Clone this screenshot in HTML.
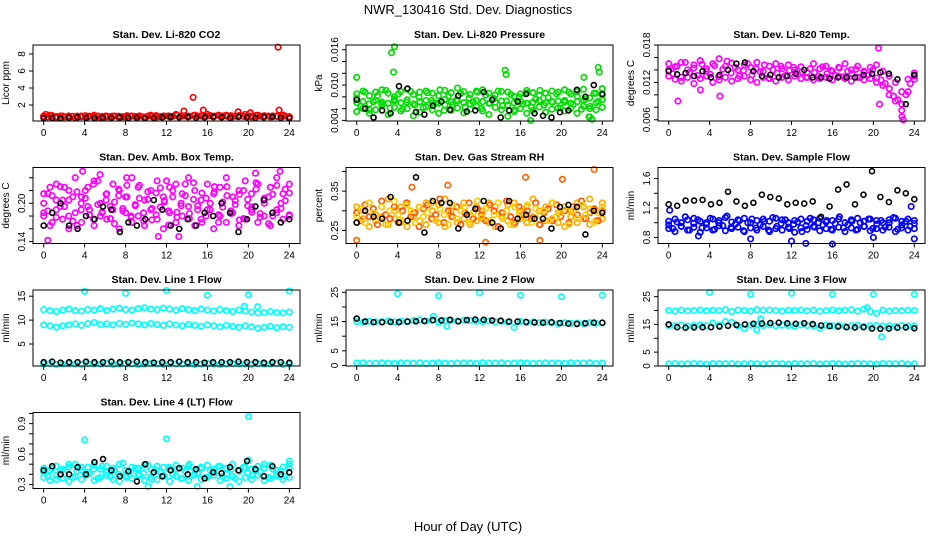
<!DOCTYPE html>
<html><head><meta charset="utf-8"><style>
html,body{margin:0;padding:0;background:#fff;}
svg{display:block;font-family:"Liberation Sans",sans-serif;}
</style></head><body>
<svg id="chart" width="936" height="540" viewBox="0 0 936 540">
<text x="468" y="14" text-anchor="middle" font-size="13">NWR_130416  Std. Dev. Diagnostics</text>
<text x="468" y="531" text-anchor="middle" font-size="13">Hour of Day (UTC)</text>
</svg>
<script>
const xTicks=[0,4,8,12,16,20,24];

const co2Red=[0.6,0.8,0.5,0.7,0.6,0.5,0.7,0.6,0.8,0.5,0.6,0.7,0.5,0.6,0.7,0.6,0.5,0.8,0.6,0.7,0.6,0.9,0.7,0.6,0.8,0.7,0.9,0.6,0.7,0.8,0.6,0.7,0.9,0.6,0.8,0.7,0.6,0.7,0.8,0.5];
const co2RedB=[0.7,0.6,0.75,0.65,0.7,0.6,0.72,0.66,0.7,0.62,0.74,0.68,0.6,0.7,0.66,0.72,0.64,0.7,0.68,0.62,0.74,0.7,0.66,0.72,0.6,0.7,0.68,0.76,0.64,0.7,0.72,0.66,0.8,0.7,0.74,0.68,0.78,0.7,0.72,0.66,0.76,0.7,0.8,0.72,0.68,0.74,0.7,0.78,0.66,0.72,0.7,0.76,0.68,0.74,0.7,0.72,0.66,0.74,0.7,0.62];
const co2Black=[0.45,0.5,0.45,0.5,0.55,0.5,0.45,0.5,0.5,0.55,0.5,0.5,0.45,0.5,0.55,0.6,0.55,0.6,0.5,0.55,0.6,0.55,0.5,0.6,0.55,0.5,0.55,0.6,0.5,0.45];
const co2OutHours=[14.6,22.9,13.7,15.6,19,20.2,23,0.2];
const co2OutVals=[2.9,8.8,1.3,1.4,1.2,1.1,1.4,0.9];

const presGreenA=[0.0085,0.009,0.0082,0.0088,0.0092,0.0086,0.008,0.0089,0.0093,0.0084,0.0088,0.009,0.0086,0.0082,0.0091,0.0087,0.0095,0.0089,0.0084,0.009,0.0092,0.0086,0.0083,0.0089,0.0088,0.0081,0.0085,0.0091,0.0087,0.0083,0.0086,0.009,0.0088,0.0092,0.0085,0.0089,0.0093,0.0078,0.0086,0.0094];
const presGreenB=[0.0055,0.006,0.0052,0.0058,0.0065,0.005,0.0062,0.0056,0.006,0.0048,0.0054,0.0063,0.0058,0.0052,0.0066,0.0057,0.0061,0.0053,0.0059,0.0064,0.0056,0.005,0.0062,0.0058,0.0047,0.0055,0.006,0.0052,0.0057,0.0063,0.0054,0.0059,0.0061,0.0056,0.006,0.0052,0.0064,0.0046,0.0058,0.0062];
const presGreenC=[0.007,0.0072,0.0068,0.0074,0.0071,0.0069,0.0073,0.007,0.0075,0.0068,0.0072,0.0074,0.007,0.0069,0.0076,0.0071,0.0073,0.007,0.0068,0.0074,0.0072,0.0069,0.0071,0.0073,0.0066,0.007,0.0072,0.0069,0.0071,0.0074,0.007,0.0072,0.0073,0.0071,0.0069,0.0072,0.0074,0.006,0.007,0.0075];
const presGreenD=[0.0078,0.0064,0.0088,0.0058,0.0072,0.0082,0.0068,0.0091,0.0061,0.0076,0.0085,0.0059,0.0071,0.0089,0.0066,0.0079,0.0062,0.0087,0.0074,0.0069,0.0092,0.0057,0.0081,0.0067,0.0075,0.0086,0.0063,0.0078,0.0071,0.0088,0.006,0.0083,0.0069,0.0077,0.009,0.0065,0.0073,0.0084,0.0058,0.008,0.0068,0.0087,0.0062,0.0076,0.0091,0.0066,0.0079,0.0071,0.0085,0.0061,0.0074,0.0088,0.0067,0.0081,0.0059,0.0076,0.0064,0.0086,0.0072,0.0083];
const presBlack=[0.0075,0.006,0.0045,0.0057,0.0052,0.0098,0.0094,0.0054,0.005,0.0065,0.0072,0.0058,0.0082,0.0055,0.0057,0.0088,0.0075,0.0045,0.0057,0.0072,0.0085,0.0052,0.0048,0.0045,0.0054,0.0057,0.0092,0.008,0.01,0.0085];
const presOutHours=[3.4,3.7,3.6,0,14.6,14.5,23.6,23.7,22.7,23,17,22.2];
const presOutVals=[0.0155,0.0165,0.0122,0.0113,0.0118,0.0125,0.013,0.0122,0.0046,0.0042,0.004,0.0113];

const tempMagA=[0.015,0.0145,0.0152,0.014,0.0148,0.0155,0.0142,0.015,0.0158,0.0146,0.0151,0.014,0.0148,0.0144,0.0152,0.0138,0.0146,0.015,0.0142,0.0148,0.014,0.0145,0.0136,0.015,0.0142,0.0146,0.0138,0.0144,0.015,0.014,0.0146,0.0138,0.0144,0.0148,0.0138,0.013,0.012,0.0105,0.0125,0.0135];
const tempMagB=[0.013,0.0125,0.0122,0.0128,0.0118,0.0126,0.013,0.012,0.0124,0.0128,0.0122,0.0126,0.013,0.0124,0.012,0.0128,0.0126,0.0122,0.0128,0.0124,0.013,0.0126,0.0128,0.0124,0.0126,0.0128,0.0124,0.013,0.0126,0.0122,0.0128,0.0124,0.0126,0.012,0.0115,0.01,0.009,0.0075,0.0105,0.0125];
const tempMagC=[0.014,0.0134,0.0146,0.0128,0.0152,0.0136,0.0143,0.0131,0.0149,0.0138,0.0133,0.0147,0.0129,0.0141,0.0154,0.0135,0.0144,0.013,0.0139,0.015,0.0132,0.0142,0.0137,0.0148,0.0127,0.014,0.0135,0.0146,0.0131,0.0139,0.0144,0.0133,0.0137,0.0128,0.0142,0.0136,0.013,0.0145,0.0134,0.0139,0.0131,0.0143,0.0129,0.0138,0.0134,0.0141,0.0128,0.0136,0.0132,0.014,0.0127,0.0124,0.0118,0.011,0.0098,0.0092,0.0085,0.01,0.0118,0.013];
const tempBlack=[0.0138,0.0133,0.0135,0.013,0.0138,0.0128,0.0132,0.014,0.015,0.0152,0.0138,0.013,0.0132,0.0128,0.013,0.0134,0.014,0.0128,0.0128,0.0126,0.0128,0.0128,0.0128,0.0132,0.0134,0.0136,0.0134,0.0125,0.0085,0.0132];
const tempOutHours=[0.9,20.5,20.6,22.8,22.9,5.0,3.1];
const tempOutVals=[0.009,0.0175,0.0085,0.0065,0.006,0.0098,0.0108];

const boxMagA=[0.215,0.225,0.23,0.205,0.22,0.24,0.21,0.225,0.235,0.2,0.215,0.23,0.22,0.21,0.24,0.225,0.205,0.22,0.235,0.21,0.225,0.23,0.215,0.24,0.22,0.205,0.23,0.215,0.225,0.24,0.21,0.22,0.235,0.215,0.23,0.205,0.225,0.24,0.215,0.23];
const boxMagB=[0.18,0.165,0.19,0.175,0.16,0.185,0.17,0.195,0.165,0.18,0.175,0.19,0.16,0.185,0.17,0.18,0.165,0.19,0.175,0.16,0.185,0.17,0.18,0.195,0.165,0.175,0.19,0.16,0.18,0.17,0.185,0.165,0.175,0.19,0.17,0.18,0.165,0.185,0.175,0.18];
const boxMagC=[0.2,0.188,0.212,0.178,0.226,0.195,0.205,0.172,0.218,0.19,0.208,0.182,0.23,0.198,0.186,0.214,0.176,0.202,0.222,0.192,0.21,0.18,0.196,0.228,0.185,0.206,0.174,0.216,0.194,0.204,0.188,0.22,0.178,0.2,0.212,0.184,0.232,0.196,0.17,0.208,0.19,0.218,0.182,0.202,0.226,0.188,0.198,0.214,0.176,0.206,0.194,0.222,0.184,0.2,0.21,0.18,0.228,0.192,0.204,0.216];
const boxMagD=[0.185,0.215,0.17,0.205,0.195,0.225,0.18,0.21,0.165,0.2,0.22,0.19,0.175,0.235,0.185,0.205,0.195,0.168,0.212,0.188,0.228,0.178,0.198,0.208,0.172,0.218,0.192,0.182,0.224,0.202,0.166,0.21,0.186,0.196,0.23,0.176,0.206,0.19,0.216,0.18,0.2,0.226,0.17,0.194,0.212,0.184,0.204,0.174,0.22,0.196,0.186,0.232,0.178,0.208,0.168,0.214,0.19,0.2,0.222,0.182];
const boxBlack=[0.165,0.185,0.2,0.165,0.16,0.18,0.175,0.195,0.19,0.155,0.17,0.165,0.175,0.205,0.19,0.165,0.16,0.175,0.165,0.185,0.18,0.2,0.185,0.155,0.175,0.195,0.205,0.185,0.17,0.175];
const boxOutHours=[0.4,3.8,5.5,20.7,23.1,11.2,13.2,8.1,12];
const boxOutVals=[0.142,0.25,0.245,0.247,0.25,0.148,0.148,0.24,0.235];

const rhOrangeA=[0.31,0.3,0.32,0.29,0.31,0.33,0.3,0.31,0.32,0.295,0.31,0.32,0.3,0.315,0.33,0.3,0.31,0.32,0.29,0.31,0.3,0.32,0.31,0.295,0.315,0.32,0.3,0.31,0.33,0.3,0.31,0.32,0.295,0.31,0.3,0.32,0.31,0.33,0.3,0.32];
const rhOrangeB=[0.27,0.28,0.26,0.275,0.285,0.265,0.28,0.27,0.26,0.285,0.275,0.265,0.28,0.27,0.26,0.285,0.27,0.28,0.265,0.275,0.28,0.27,0.26,0.285,0.275,0.265,0.28,0.27,0.285,0.265,0.275,0.28,0.27,0.26,0.285,0.27,0.28,0.265,0.275,0.28];
const rhOrangeC=[0.295,0.275,0.315,0.285,0.305,0.265,0.325,0.29,0.28,0.31,0.27,0.3,0.32,0.285,0.295,0.26,0.305,0.315,0.28,0.29,0.33,0.27,0.3,0.285,0.31,0.265,0.295,0.32,0.28,0.305,0.29,0.275,0.315,0.3,0.26,0.295,0.325,0.285,0.27,0.31,0.29,0.3,0.28,0.32,0.265,0.295,0.305,0.275,0.315,0.285,0.3,0.27,0.31,0.29,0.325,0.28,0.295,0.305,0.275,0.3];
const rhOrangeD=[0.285,0.305,0.27,0.32,0.295,0.28,0.31,0.265,0.3,0.325,0.29,0.275,0.315,0.3,0.27,0.31,0.285,0.295,0.32,0.275,0.305,0.29,0.265,0.315,0.28,0.3,0.31,0.27,0.295,0.325,0.285,0.305,0.275,0.29,0.32,0.28,0.3,0.265,0.31,0.295,0.285,0.315,0.27,0.305,0.29,0.3,0.275,0.32,0.285,0.295,0.31,0.265,0.3,0.28,0.315,0.29,0.305,0.27,0.295,0.31];
const rhBlack=[0.27,0.3,0.285,0.28,0.335,0.27,0.275,0.385,0.245,0.325,0.32,0.32,0.255,0.29,0.305,0.325,0.27,0.255,0.325,0.28,0.29,0.28,0.28,0.255,0.31,0.315,0.31,0.24,0.3,0.295];
const rhOutHours=[0,23.2,20.1,16.5,12.6,17.9,5.4,8.9];
const rhOutVals=[0.225,0.405,0.38,0.385,0.22,0.225,0.36,0.365];

const flowBlueA=[1.02,1.05,1.0,1.04,1.06,1.02,1.0,1.05,1.03,1.07,1.01,1.04,1.06,1.0,1.03,1.05,1.02,1.06,1.04,1.0,1.03,1.05,1.02,1.04,1.06,1.01,1.03,1.05,1.0,1.04,1.06,1.02,1.05,1.03,1.0,1.04,1.06,1.02,1.05,1.03];
const flowBlueB=[0.92,0.88,0.95,0.9,0.94,0.87,0.93,0.9,0.96,0.89,0.92,0.94,0.88,0.93,0.9,0.95,0.88,0.92,0.9,0.94,0.87,0.93,0.91,0.95,0.89,0.92,0.9,0.94,0.88,0.93,0.91,0.95,0.89,0.92,0.9,0.94,0.88,0.93,0.9,0.92];
const flowBlueC=[0.97,0.92,1.01,0.95,1.08,0.9,0.99,1.04,0.93,0.98,1.06,0.91,1.0,0.96,1.09,0.94,0.98,1.03,0.89,1.0,1.05,0.93,0.97,1.02,0.9,1.07,0.95,0.99,1.04,0.92,0.98,1.01,0.88,0.96,1.06,0.94,1.0,0.97,1.03,0.91,0.99,1.08,0.93,0.97,1.02,0.9,1.0,0.95,1.05,0.92,0.98,1.03,0.94,1.0,1.07,0.91,0.97,1.02,0.95,0.99];
const flowBlack=[1.25,1.23,1.3,1.3,1.31,1.25,1.27,1.42,1.29,1.23,1.27,1.38,1.35,1.33,1.25,1.27,1.26,1.29,1.08,1.22,1.45,1.52,1.25,1.38,1.7,1.35,1.28,1.44,1.4,1.32];
const flowOutHours=[0.1,8,12,13.4,16,20,24,23.7,2.9];
const flowOutVals=[1.17,0.78,0.75,0.72,0.71,0.8,0.78,1.22,0.82];

const line1Hi=[12.2,12.0,11.8,12.1,12.3,12.0,11.9,12.2,12.1,12.4,12.0,12.3,12.5,12.2,12.1,12.4,12.6,12.3,12.2,12.5,12.3,12.1,12.4,12.2,12.0,12.3,12.1,11.9,12.2,12.0,11.8,12.1,11.9,11.7,11.5,11.6,11.8,11.6,11.5,11.7];
const line1Mid=[9.0,8.8,8.5,8.8,9.0,9.2,8.9,9.3,9.5,9.1,9.2,9.0,9.3,9.1,9.4,9.2,9.0,9.3,9.1,8.9,9.2,9.0,8.8,9.1,8.9,8.7,9.0,8.8,8.6,8.9,8.7,8.5,8.8,8.6,8.3,8.5,8.7,8.4,8.6,8.5];
const line1Lo=[0.8,0.9,0.7,0.8,0.9,0.8,0.7,0.9,0.8,0.8,0.9,0.7,0.8,0.9,0.8,0.7,0.8,0.9,0.8,0.7,0.9,0.8,0.8,0.9,0.7,0.8,0.9,0.8,0.7,0.8,0.9,0.8,0.8,0.7,0.9,0.8,0.8,0.9,0.7,0.8];
const line1Black=[1.2,1.3,1.1,1.2,1.2,1.3,1.2,1.2,1.3,1.2,1.2,1.3,1.2,1.1,1.2,1.2,1.3,1.2,1.2,1.1,1.2,1.2,1.2,1.3,1.2,1.2,1.1,1.2,1.2,1.1];
const line1OutHours=[4,8,12,16,20,24,19.6,20.9];
const line1OutVals=[16,15.6,16.2,15.2,15.3,16.1,12.9,12.8];

const line2Hi=[15,14.8,15.1,14.9,15.0,15.2,14.9,15.1,15.0,15.3,15.6,15.2,15.5,14.8,15.3,15.4,15.2,15.5,15.3,15.1,15.0,15.2,14.9,15.1,14.8,13,15.0,14.7,14.9,14.6,14.8,14.5,14.3,14.6,14.4,14.5,14.3,14.6,14.4,14.5];
const line2Lo=[0.8,0.9,0.7,0.8,0.9,0.8,0.7,0.9,0.8,0.8,0.9,0.7,0.8,0.9,0.8,0.7,0.8,0.9,0.8,0.7,0.9,0.8,0.8,0.9,0.7,0.8,0.9,0.8,0.7,0.8,0.9,0.8,0.8,0.7,0.9,0.8,0.8,0.9,0.7,0.8];
const line2Black=[16,15,14.8,14.8,14.9,14.8,15,15.1,15.2,15.5,15.4,15.6,15.1,15.5,15.7,15.6,15.4,15.3,15,15,14.9,14.7,14.6,14.8,14.5,14.3,14.2,14.4,14.6,14.6];
const line2OutHours=[4,8,12,16,20,24,7.5,8.8];
const line2OutVals=[24.5,23.8,24.8,24,23.5,24,16.8,13.5];

const line3Hi=[20,19.8,20.1,19.9,20.0,20.2,19.9,20.1,20.0,20.3,19.6,20.2,20.0,19.8,20.3,20.1,20.2,20.0,19.8,20.1,20.0,20.2,19.9,20.1,19.8,20.0,20.2,19.9,20.1,20.3,19.8,20.5,19.6,19.0,20.2,19.8,20.0,19.9,20.1,20.0];
const line3Mid=[14.6,14.5,14.7,14.4,14.6,14.8,14.5,15.5,14.7,16,15.8,14.5,13.5,14.7,15.0,14.6,14.8,14.5,14.7,14.6,14.4,14.8,14.6,14.5,13.6,14.7,14.5,14.6,14.4,14.5,14.7,14.3,14.5,14.6,14.4,14.5,14.3,14.6,14.4,14.5];
const line3Lo=[0.8,0.9,0.7,0.8,0.9,0.8,0.7,0.9,0.8,0.8,0.9,0.7,0.8,0.9,0.8,0.7,0.8,0.9,0.8,0.7,0.9,0.8,0.8,0.9,0.7,0.8,0.9,0.8,0.7,0.8,0.9,0.8,0.8,0.7,0.9,0.8,0.8,0.9,0.7,0.8];
const line3Black=[15,14,13.8,13.9,14,14,14.2,14.5,14.8,15,15.2,15.3,15.5,15.6,15.4,15.2,15.4,15.1,14.6,14.4,14.2,14.0,13.9,14.0,13.5,13.4,13.5,13.8,13.9,13.6];
const line3OutHours=[4,8,12,16,20,24,20.8,8.6,9.0,19.4];
const line3OutVals=[26.5,25.8,26.2,25.8,25.8,25.8,10.5,13,17,21];

const line4A=[0.46,0.44,0.48,0.45,0.47,0.5,0.44,0.47,0.49,0.45,0.48,0.46,0.5,0.44,0.47,0.46,0.49,0.45,0.48,0.47,0.45,0.49,0.46,0.48,0.44,0.47,0.49,0.45,0.48,0.46,0.5,0.44,0.47,0.45,0.48,0.46,0.49,0.44,0.47,0.5];
const line4B=[0.37,0.34,0.39,0.36,0.33,0.38,0.35,0.4,0.34,0.37,0.39,0.35,0.33,0.38,0.36,0.4,0.34,0.37,0.35,0.39,0.33,0.38,0.36,0.34,0.4,0.35,0.37,0.39,0.34,0.36,0.38,0.33,0.37,0.35,0.39,0.34,0.36,0.38,0.35,0.37];
const line4C=[0.42,0.38,0.46,0.35,0.44,0.4,0.5,0.37,0.43,0.47,0.39,0.41,0.45,0.36,0.48,0.42,0.38,0.44,0.4,0.51,0.37,0.43,0.46,0.39,0.41,0.49,0.35,0.44,0.42,0.38,0.47,0.4,0.45,0.36,0.43,0.5,0.39,0.41,0.46,0.37,0.44,0.42,0.48,0.38,0.4,0.45,0.36,0.43,0.47,0.41,0.39,0.44,0.42,0.5,0.37,0.45,0.4,0.43,0.38,0.46];
const line4Black=[0.44,0.48,0.4,0.4,0.47,0.4,0.52,0.55,0.44,0.38,0.43,0.33,0.5,0.42,0.38,0.44,0.46,0.4,0.45,0.36,0.42,0.41,0.47,0.44,0.53,0.45,0.38,0.48,0.4,0.42];
const line4OutHours=[4,12,20,15,10.2,18.2,20,24];
const line4OutVals=[0.74,0.75,0.97,0.28,0.28,0.28,0.54,0.53];

const NS='http://www.w3.org/2000/svg';
const svg=document.getElementById('chart');
const colLeft=[33,346,658], rowTop=[45,167.5,290,412.5], PW=267, PH=76;
function mk(tag,attrs,parent){const e=document.createElementNS(NS,tag);for(const k in attrs)e.setAttribute(k,attrs[k]);(parent||svg).appendChild(e);return e;}

const panels=[
 {id:'co2',title:'Stan. Dev. Li-820 CO2',ylab:'Licor ppm',col:0,row:0,ylim:[0.12,9.06],ticks:[2,4,6,8],labels:['2','4','6','8'],
  series:[[co2Red,'#ff0000'],[co2RedB,'#ff0000'],[co2Black,'#000000']],out:[co2OutHours,co2OutVals,'#ff0000']},
 {id:'pressure',title:'Stan. Dev. Li-820 Pressure',ylab:'kPa',col:1,row:0,ylim:[0.0039,0.0168],ticks:[0.004,0.006,0.008,0.010,0.012,0.014,0.016],labels:['0.004','','','0.010','','','0.016'],
  series:[[presGreenA,'#00dd00'],[presGreenB,'#00dd00'],[presGreenC,'#00dd00'],[presGreenD,'#00dd00'],[presBlack,'#000000']],out:[presOutHours,presOutVals,'#00dd00']},
 {id:'temp',title:'Stan. Dev. Li-820 Temp.',ylab:'degrees C',col:2,row:0,ylim:[0.0058,0.018],ticks:[0.006,0.008,0.010,0.012,0.014,0.016,0.018],labels:['0.006','','','0.012','','','0.018'],
  series:[[tempMagA,'#ff00ff'],[tempMagB,'#ff00ff'],[tempMagC,'#ff00ff'],[tempBlack,'#000000']],out:[tempOutHours,tempOutVals,'#ff00ff']},
 {id:'ambbox',title:'Stan. Dev. Amb. Box Temp.',ylab:'degrees C',col:0,row:1,ylim:[0.137,0.256],ticks:[0.14,0.16,0.18,0.20,0.22,0.24],labels:['0.14','','','0.20','',''],
  series:[[boxMagA,'#ff00ff'],[boxMagB,'#ff00ff'],[boxMagC,'#ff00ff'],[boxMagD,'#ff00ff'],[boxBlack,'#000000']],out:[boxOutHours,boxOutVals,'#ff00ff']},
 {id:'rh',title:'Stan. Dev. Gas Stream RH',ylab:'percent',col:1,row:1,ylim:[0.217,0.41],ticks:[0.25,0.30,0.35,0.40],labels:['0.25','','0.35',''],
  series:[[rhOrangeA,'#ffaa00'],[rhOrangeB,'#ffaa00'],[rhOrangeC,'#ff5500'],[rhOrangeD,'#ffcc00'],[rhBlack,'#000000']],out:[rhOutHours,rhOutVals,'#ff6600']},
 {id:'sampleflow',title:'Stan. Dev. Sample Flow',ylab:'ml/min',col:2,row:1,ylim:[0.718,1.75],ticks:[0.8,1.0,1.2,1.4,1.6],labels:['0.8','','1.2','','1.6'],
  series:[[flowBlueA,'#0000ff'],[flowBlueB,'#0000ff'],[flowBlueC,'#0000ff'],[flowBlack,'#000000']],out:[flowOutHours,flowOutVals,'#0000ff']},
 {id:'line1',title:'Stan. Dev. Line 1 Flow',ylab:'ml/min',col:0,row:2,ylim:[0.4,16.3],ticks:[5,10,15],labels:['5','10','15'],
  series:[[line1Hi,'#00ffff'],[line1Mid,'#00ffff'],[line1Lo,'#00ffff'],[line1Black,'#000000']],out:[line1OutHours,line1OutVals,'#00ffff']},
 {id:'line2',title:'Stan. Dev. Line 2 Flow',ylab:'ml/min',col:1,row:2,ylim:[-0.2,25.8],ticks:[0,5,10,15,20,25],labels:['0','5','','15','','25'],
  series:[[line2Hi,'#00ffff'],[line2Lo,'#00ffff'],[line2Black,'#000000']],out:[line2OutHours,line2OutVals,'#00ffff']},
 {id:'line3',title:'Stan. Dev. Line 3 Flow',ylab:'ml/min',col:2,row:2,ylim:[0,27.4],ticks:[0,5,10,15,20,25],labels:['0','5','','15','','25'],
  series:[[line3Hi,'#00ffff'],[line3Mid,'#00ffff'],[line3Lo,'#00ffff'],[line3Black,'#000000']],out:[line3OutHours,line3OutVals,'#00ffff']},
 {id:'line4',title:'Stan. Dev. Line 4 (LT) Flow',ylab:'ml/min',col:0,row:3,ylim:[0.26,1.01],ticks:[0.3,0.4,0.5,0.6,0.7,0.8,0.9,1.0],labels:['0.3','','','0.6','','','0.9',''],
  series:[[line4A,'#00ffff'],[line4B,'#00ffff'],[line4C,'#00ffff'],[line4Black,'#000000']],out:[line4OutHours,line4OutVals,'#00ffff']}
];

panels.forEach(p=>{
  const L=colLeft[p.col], T=rowTop[p.row], B=T+PH;
  const g=mk('g',{});
  
  
  const xs=h=>L+PW*0.04+(h/24)*PW*0.92;
  const ys=v=>B-(v-p.ylim[0])/(p.ylim[1]-p.ylim[0])*PH;
  const pts=mk('g',{},g);
  
  
  const dot=(h,v,c)=>{const blk=c==='#000000';
    const e=mk('circle',{cx:xs(h).toFixed(1),cy:ys(v).toFixed(1),r:blk?2.5:2.7,fill:'none',stroke:c,'stroke-width':blk?1.6:1.7},pts);
    
    };
  p.series.filter(s=>s[1]!=='#000000').forEach(([arr,c])=>arr.forEach((v,i)=>dot(i*24/(arr.length-1),v,c)));
  const [oh,ov,oc]=p.out; oh.forEach((h,i)=>dot(h,ov[i],oc));
  p.series.filter(s=>s[1]==='#000000').forEach(([arr,c])=>arr.forEach((v,i)=>dot(i*24/(arr.length-1),v,c)));
  const box=mk('rect',{x:L,y:T,width:PW,height:PH,fill:'none',stroke:'#000','stroke-width':1},g);
  
  
  const t=mk('text',{x:L+PW/2,y:T-7,'text-anchor':'middle','font-size':10.5,'font-weight':'bold'},g);
  t.textContent=p.title;
  
  
  xTicks.forEach(h=>{const x=xs(h);mk('line',{x1:x,x2:x,y1:B,y2:B+4,stroke:'#000'},g);
    const tl=mk('text',{x:x,y:B+15,'text-anchor':'middle','font-size':10},g);tl.textContent=h;
    
    });
  mk('line',{x1:xs(0),x2:xs(24),y1:B,y2:B,stroke:'#000'},g);
  p.ticks.forEach((v,i)=>{const y=ys(v);mk('line',{x1:L-4,x2:L,y1:y,y2:y,stroke:'#000'},g);
    if(p.labels[i]){const tl=mk('text',{x:L-8,y:y,'text-anchor':'middle','font-size':10,transform:`rotate(-90 ${L-8} ${y})`},g);tl.textContent=p.labels[i];
      
      }});
  const yl=mk('text',{x:L-24,y:T+PH/2,'text-anchor':'middle','font-size':10,transform:`rotate(-90 ${L-24} ${T+PH/2})`},g);
  yl.textContent=p.ylab;
  
  
});
</script>
</body></html>
